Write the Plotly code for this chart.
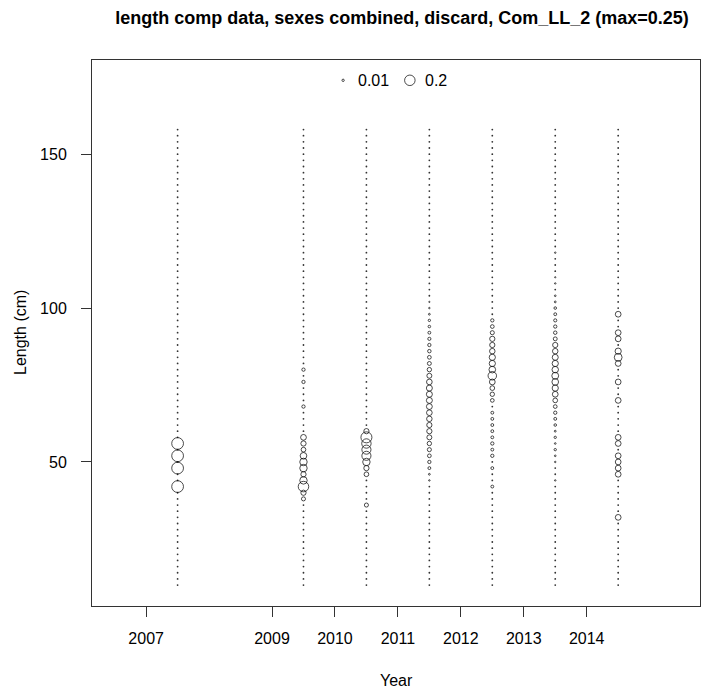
import numpy as np
import plotly.graph_objects as go

# -----------------------------------------
# DATA - length composition, discard, Com_LL_2
# -----------------------------------------
len_bins = list(range(10, 160, 2))
years = [2007, 2009, 2010, 2011, 2012, 2013, 2014]

len_2007 = [42, 48, 52, 56]
prop_2007 = [0.25, 0.25, 0.25, 0.25]

len_2009 = [38, 40, 42, 44, 46, 48, 50, 52, 54, 56, 58, 68, 76, 80]
prop_2009 = [0.03, 0.05, 0.20, 0.10, 0.05, 0.10, 0.10, 0.08, 0.04, 0.05, 0.06, 0.02, 0.02, 0.02]

len_2010 = [36, 46, 48, 50, 52, 54, 56, 58, 60]
prop_2010 = [0.03, 0.04, 0.05, 0.10, 0.15, 0.15, 0.16, 0.22, 0.05]

len_2011 = [44, 46, 48, 50, 52, 54, 56, 58, 60, 62, 64, 66, 68, 70, 72, 74,
            76, 78, 80, 82, 84, 86, 88, 90, 92, 94, 96, 98, 100, 102]
prop_2011 = [0.004, 0.006, 0.015, 0.02, 0.025, 0.03, 0.035, 0.045, 0.05, 0.05,
             0.055, 0.058, 0.062, 0.065, 0.065, 0.065, 0.058, 0.045, 0.035, 0.028,
             0.025, 0.022, 0.02, 0.018, 0.015, 0.012, 0.01, 0.006, 0.004, 0.003]

len_2012 = [42, 48, 52, 54, 56, 58, 60, 62, 64, 66, 70, 72, 74, 76, 78, 80,
            82, 84, 86, 88, 90, 92, 94, 96]
prop_2012 = [0.015, 0.015, 0.02, 0.015, 0.02, 0.015, 0.015, 0.015, 0.015, 0.015,
             0.025, 0.035, 0.04, 0.06, 0.13, 0.08, 0.07, 0.07, 0.055, 0.05,
             0.05, 0.03, 0.025, 0.02]

len_2013 = [44, 50, 52, 54, 56, 58, 60, 62, 64, 66, 68, 70, 72, 74, 76, 78,
            80, 82, 84, 86, 88, 90, 92, 94, 96, 98, 100, 102, 104, 108, 110, 118]
prop_2013 = [0.004, 0.004, 0.005, 0.01, 0.005, 0.01, 0.006, 0.012, 0.015, 0.02,
             0.025, 0.04, 0.06, 0.07, 0.08, 0.085, 0.075, 0.07, 0.065, 0.055,
             0.05, 0.028, 0.022, 0.02, 0.018, 0.015, 0.012, 0.006, 0.005, 0.004,
             0.003, 0.004]

len_2014 = [32, 46, 48, 50, 52, 56, 58, 70, 76, 82, 84, 86, 90, 92, 98]
prop_2014 = [0.06, 0.06, 0.06, 0.06, 0.06, 0.06, 0.06, 0.06, 0.06, 0.06,
             0.11, 0.07, 0.06, 0.06, 0.06]

legend_values = [0.01, 0.2]
max_prop = 0.25

comp_lens = [len_2007, len_2009, len_2010, len_2011, len_2012, len_2013, len_2014]
comp_props = [prop_2007, prop_2009, prop_2010, prop_2011, prop_2012, prop_2013, prop_2014]

# -----------------------------------------
# Layout settings
# -----------------------------------------
W, H = 702, 693
ML, MR, MT, MB = 92, 2, 60, 87
FONT = "Liberation Sans, Arial, sans-serif"
BUBBLE_SCALE = 23.5        # px diameter for proportion 1 (sqrt scaling)
X_RANGE = [2006.14, 2015.80]
Y_RANGE = [3.2, 180.6]
LEGEND_Y = 174


def bubble_px(v):
    return BUBBLE_SCALE * np.sqrt(np.asarray(v, dtype=float))


fig = go.Figure()

# zero observations drawn as tiny dots
zx, zy = [], []
px, py, pv = [], [], []
for yr, lens, props in zip(years, comp_lens, comp_props):
    for b in len_bins:
        if b not in lens:
            zx.append(yr + 0.5)
            zy.append(b)
    for b, v in zip(lens, props):
        px.append(yr + 0.5)
        py.append(b)
        pv.append(v)

fig.add_trace(go.Scatter(
    x=zx, y=zy, mode="markers",
    marker=dict(symbol="circle", size=1.8, color="#333333", line=dict(width=0)),
    hoverinfo="skip", showlegend=False,
))

fig.add_trace(go.Scatter(
    x=px, y=py, mode="markers",
    marker=dict(symbol="circle-open", size=bubble_px(pv), color="black",
                line=dict(width=1, color="black")),
    customdata=pv,
    hovertemplate="Year %{x}<br>Length %{y}<br>Prop %{customdata}<extra></extra>",
    showlegend=False,
))

# bubble legend inside plot
leg_x = [2010.13, 2011.19]
fig.add_trace(go.Scatter(
    x=leg_x, y=[LEGEND_Y, LEGEND_Y], mode="markers",
    marker=dict(symbol="circle-open", size=bubble_px(legend_values), color="black",
                line=dict(width=1, color="black")),
    hoverinfo="skip", showlegend=False,
))
for lx, lv in zip(leg_x, legend_values):
    fig.add_annotation(x=lx, y=LEGEND_Y, xref="x", yref="y", text=f"{lv:g}",
                       showarrow=False, xanchor="left", yanchor="middle", xshift=13,
                       font=dict(family=FONT, size=16, color="black"))

fig.add_annotation(x=0.5, y=-(680 - (H - MB)) / (H - MT - MB), xref="paper", yref="paper",
                   text="Year", showarrow=False, yanchor="middle",
                   font=dict(family=FONT, size=16, color="black"))
fig.add_annotation(x=-(ML - 20) / (W - ML - MR), y=0.5, xref="paper", yref="paper",
                   text="Length (cm)", showarrow=False, textangle=-90, xanchor="center",
                   font=dict(family=FONT, size=16, color="black"))

fig.update_layout(
    width=W, height=H,
    margin=dict(l=ML, r=MR, t=MT, b=MB),
    paper_bgcolor="white", plot_bgcolor="white",
    title=dict(text=f"<b>length comp data, sexes combined, discard, Com_LL_2 (max={max_prop:g})</b>",
               x=402 / W, xanchor="center", y=1 - 18 / H, yanchor="middle",
               yref="container", xref="container",
               font=dict(family=FONT, size=18, color="black")),
    font=dict(family=FONT, size=16, color="black"),
)

fig.update_xaxes(
    range=X_RANGE, tickvals=years, ticktext=[str(y) for y in years],
    showgrid=False, zeroline=False, showline=True, mirror=True,
    linecolor="#333333", linewidth=1, ticks="outside", ticklen=10,
    tickcolor="#333333", ticklabelstandoff=8,
    tickfont=dict(family=FONT, size=16, color="black"),
)
fig.update_yaxes(
    range=Y_RANGE, tickvals=[50, 100, 150],
    showgrid=False, zeroline=False, showline=True, mirror=True,
    linecolor="#333333", linewidth=1, ticks="outside", ticklen=10,
    tickcolor="#333333", ticklabelstandoff=11,
    tickfont=dict(family=FONT, size=16, color="black"),
)

fig.write_html("out.html", config={"displayModeBar": False},
               post_script="document.body.style.margin = '0px';")
